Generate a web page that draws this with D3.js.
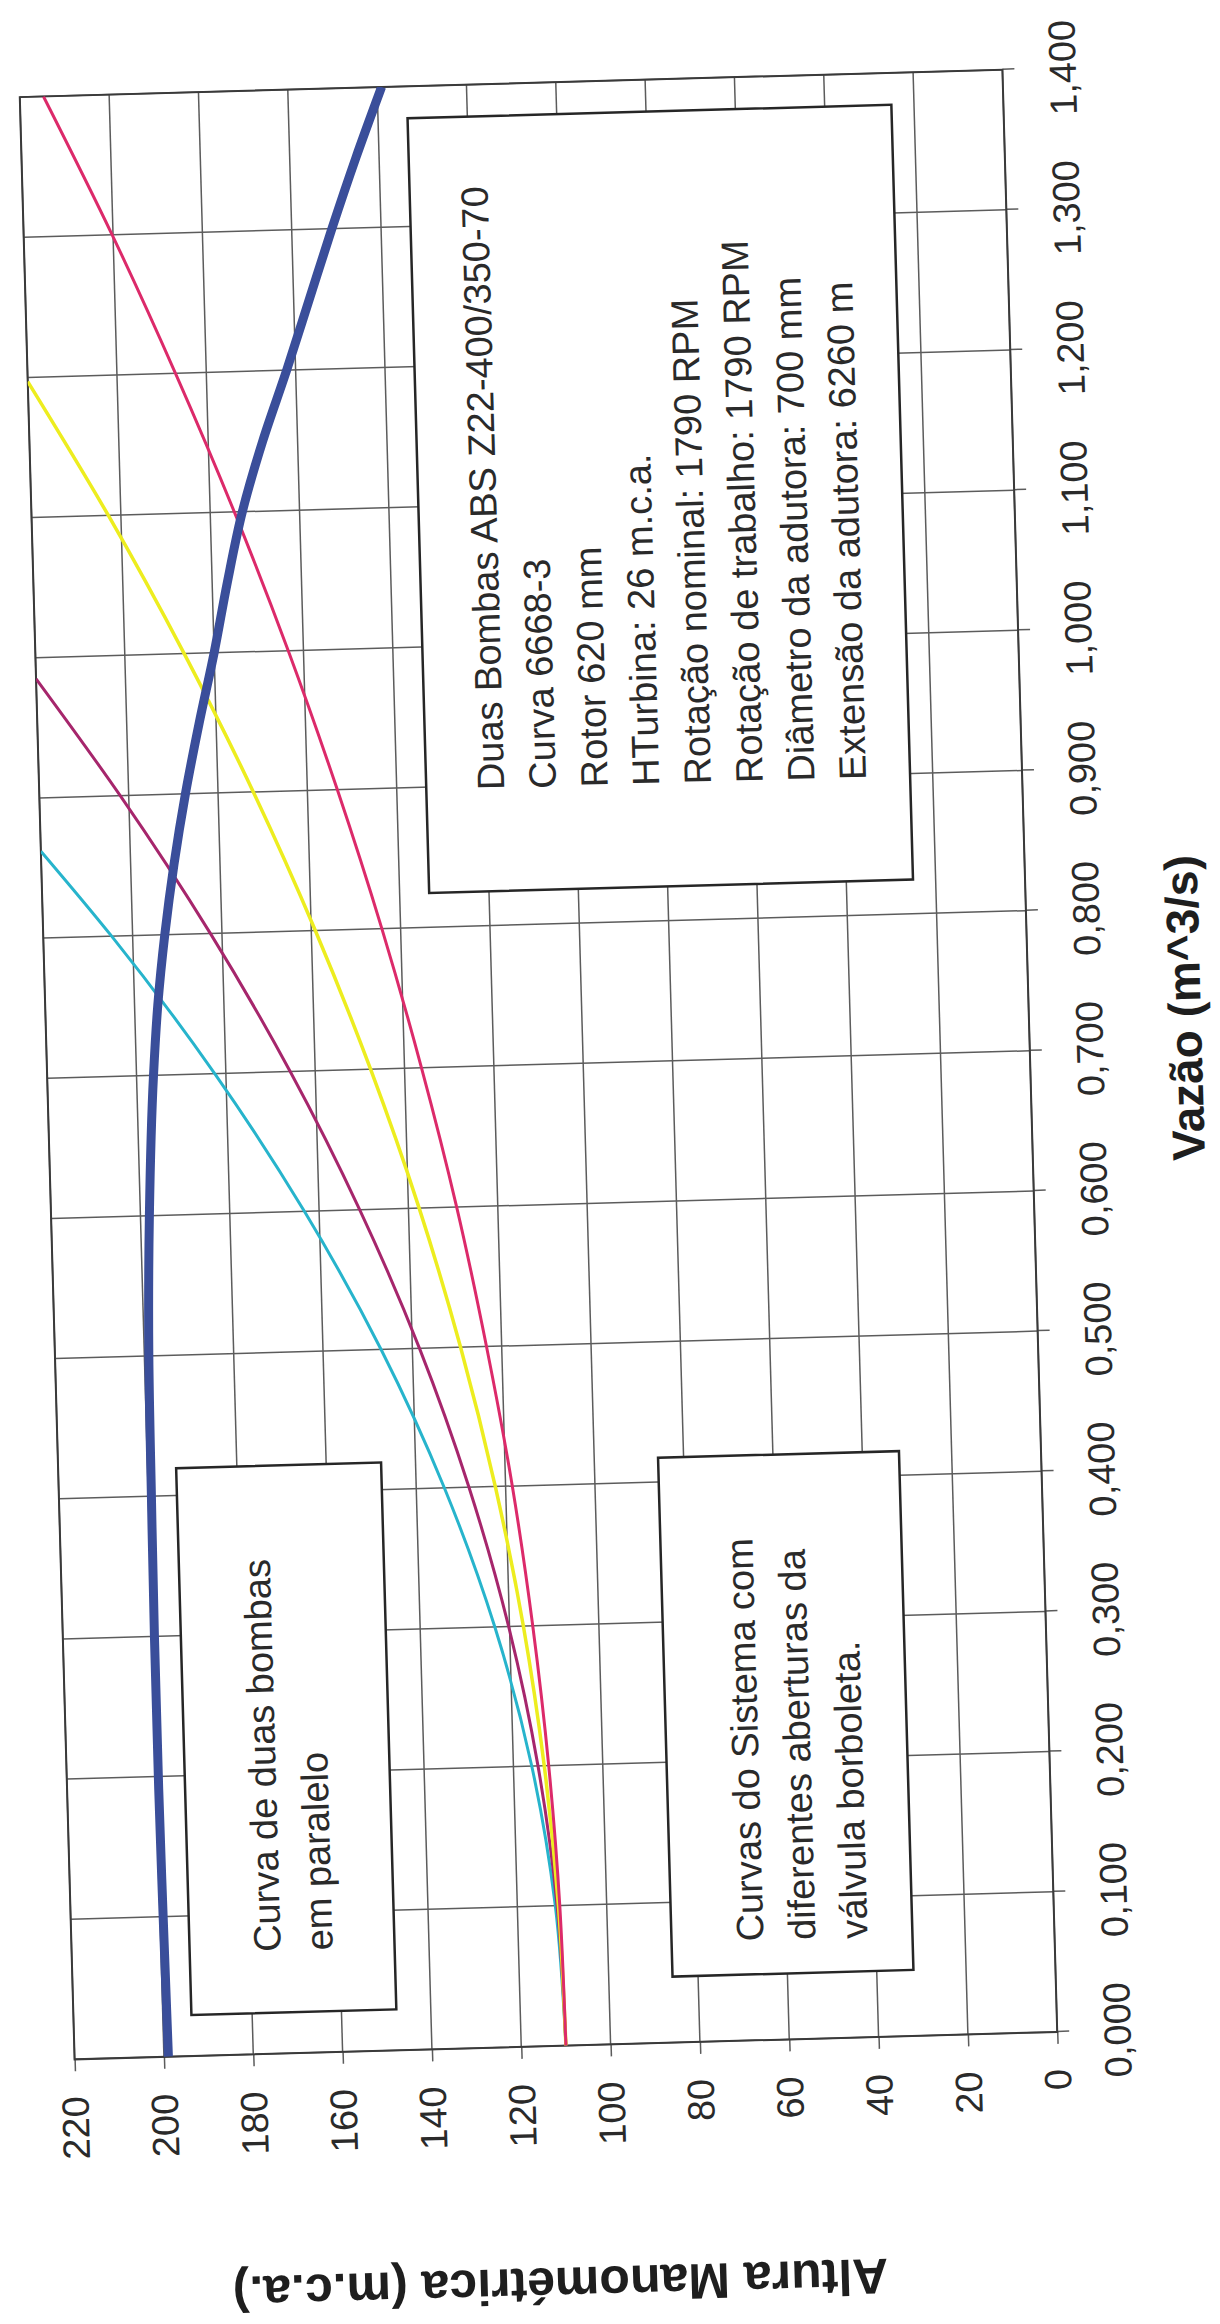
<!DOCTYPE html>
<html>
<head>
<meta charset="utf-8">
<script src="https://cdn.jsdelivr.net/npm/d3@7"></script>
<style>
  html, body { margin: 0; padding: 0; background: #ffffff; }
  svg { display: block; }
</style>
</head>
<body>
<svg id="chart" width="1220" height="2324"></svg>
<script>
// ---- Data -------------------------------------------------------------
// Vazão (m^3/s) axis ticks and Altura Manométrica (m.c.a.) axis ticks
const vazaoTicks = [0, 0.1, 0.2, 0.3, 0.4, 0.5, 0.6, 0.7, 0.8, 0.9, 1.0, 1.1, 1.2, 1.3, 1.4];
const alturaTicks = [0, 20, 40, 60, 80, 100, 120, 140, 160, 180, 200, 220];

// Curva de duas bombas em paralelo: [vazão, altura]
const bombasParalelo = [
  [0, 199], [0.1, 199.3], [0.2, 199.5], [0.3, 199.5], [0.4, 199.3], [0.5, 199],
  [0.6, 198], [0.7, 196.2], [0.75, 194.8], [0.8, 192.8], [0.85, 190.3], [0.9, 187.3],
  [0.95, 183.8], [1.0, 180], [1.05, 176.6], [1.1, 172.8], [1.15, 167.8], [1.2, 162],
  [1.25, 156.5], [1.3, 151], [1.35, 145.2], [1.4, 139]
];

// Curvas do sistema, uma por abertura da válvula borboleta
const sistemaCiano = [
  [0, 110], [0.1, 111.5], [0.2, 115.9], [0.3, 123.3], [0.4, 133.7], [0.5, 147.0],
  [0.6, 163.3], [0.7, 182.5], [0.8, 204.7], [0.862, 220]
];
const sistemaPurpura = [
  [0, 110], [0.1, 111.1], [0.2, 114.5], [0.3, 120.2], [0.4, 128.2], [0.5, 138.4],
  [0.6, 150.9], [0.7, 165.6], [0.8, 182.6], [0.9, 201.9], [0.985, 220]
];
const sistemaAmarelo = [
  [0, 110], [0.1, 110.8], [0.2, 113.1], [0.3, 116.9], [0.4, 122.3], [0.5, 129.2],
  [0.6, 137.6], [0.7, 147.6], [0.8, 159.1], [0.9, 172.1], [1.0, 186.7], [1.1, 202.8],
  [1.197, 220]
];
const sistemaMagenta = [
  [0, 110], [0.1, 110.5], [0.2, 112.1], [0.3, 114.8], [0.4, 118.5], [0.5, 123.4],
  [0.6, 129.2], [0.7, 136.2], [0.8, 144.2], [0.9, 153.3], [1.0, 163.4], [1.1, 174.6],
  [1.2, 186.9], [1.3, 200.2], [1.4, 214.7]
];

// Text boxes
const notaBombas = [
  "Duas Bombas ABS Z22-400/350-70",
  "Curva 6668-3",
  "Rotor 620 mm",
  "HTurbina: 26 m.c.a.",
  "Rotação nominal: 1790 RPM",
  "Rotação de trabalho: 1790 RPM",
  "Diâmetro da adutora: 700 mm",
  "Extensão da adutora: 6260 m"
];
const notaCurvaBombas = ["Curva de duas bombas", "em paralelo"];
const notaSistema = ["Curvas do Sistema com", "diferentes aberturas da", "válvula borboleta."];

const tituloVazao = "Vazão (m^3/s)";
const tituloAltura = "Altura Manométrica (m.c.a.)";

// ---- Layout -----------------------------------------------------------
// The chart is laid out in its own frame (vazão across, altura up) and then
// turned a quarter turn counter-clockwise onto the page, with a slight skew.
const W = 1963, H = 983;            // plot size in the chart frame
const originX = 47, originY = 2046; // page position of the plot's (0, 220) corner
const tilt = -1.6, tiltCx = 539, tiltCy = 1064;
const FONT = "'Liberation Sans', Arial, Helvetica, sans-serif";

const svg = d3.select("#chart");
svg.append("rect").attr("width", 1220).attr("height", 2324).attr("fill", "#ffffff");

const g = svg.append("g")
  .attr("transform", `rotate(${tilt} ${tiltCx} ${tiltCy}) translate(${originX} ${originY}) rotate(-90)`);

const x = d3.scaleLinear().domain([0, 1.4]).range([0, W]);
const y = d3.scaleLinear().domain([0, 220]).range([H, 0]);

const fmtVazao = d => d3.format(".3f")(d).replace(".", ",");

// Gridlines
const gridColor = "#5c5c5c";
g.append("g").selectAll("line")
  .data(vazaoTicks)
  .join("line")
  .attr("x1", d => x(d)).attr("x2", d => x(d))
  .attr("y1", 0).attr("y2", H)
  .attr("stroke", gridColor).attr("stroke-width", 1.5);

g.append("g").selectAll("line")
  .data(alturaTicks)
  .join("line")
  .attr("x1", 0).attr("x2", W)
  .attr("y1", d => y(d)).attr("y2", d => y(d))
  .attr("stroke", gridColor).attr("stroke-width", 1.5);

// Axes
const xAxis = g.append("g")
  .attr("transform", `translate(0,${H})`)
  .call(d3.axisBottom(x).tickValues(vazaoTicks).tickSize(12).tickFormat(fmtVazao));
const yAxis = g.append("g")
  .call(d3.axisLeft(y).tickValues(alturaTicks).tickSize(12).tickPadding(25).tickFormat(d3.format("d")));

[xAxis, yAxis].forEach(ax => {
  ax.select(".domain").remove();
  ax.selectAll(".tick line").attr("stroke", gridColor).attr("stroke-width", 1.5);
  ax.selectAll(".tick text")
    .attr("fill", "#2a2a2a")
    .style("font-family", FONT)
    .style("font-size", "38px");
});
xAxis.selectAll(".tick text").attr("y", 46).attr("dy", "0.72em");

// Plot border
g.append("rect")
  .attr("x", 0).attr("y", 0).attr("width", W).attr("height", H)
  .attr("fill", "none").attr("stroke", "#3a3a3a").attr("stroke-width", 2);

// Curves
g.append("clipPath").attr("id", "plot-clip")
  .append("rect").attr("x", 0).attr("y", 0).attr("width", W).attr("height", H);

const line = d3.line()
  .x(d => x(d[0]))
  .y(d => y(d[1]))
  .curve(d3.curveMonotoneX);

const curves = g.append("g").attr("clip-path", "url(#plot-clip)");
const series = [
  { data: sistemaCiano, color: "#27b4cc", width: 3 },
  { data: sistemaPurpura, color: "#a6266c", width: 3 },
  { data: sistemaAmarelo, color: "#eded1f", width: 3.5 },
  { data: sistemaMagenta, color: "#dc2a6a", width: 3 },
  { data: bombasParalelo, color: "#3a4e9a", width: 9 }
];
curves.selectAll("path")
  .data(series)
  .join("path")
  .attr("d", s => line(s.data))
  .attr("fill", "none")
  .attr("stroke", s => s.color)
  .attr("stroke-width", s => s.width)
  .attr("stroke-linejoin", "round");

// Text boxes
function textBox(box, lines, textX, firstBaseline, lineStep) {
  const b = g.append("g");
  b.append("rect")
    .attr("x", box.x).attr("y", box.y).attr("width", box.w).attr("height", box.h)
    .attr("fill", "#ffffff").attr("stroke", "#262626").attr("stroke-width", 2.5);
  b.selectAll("text")
    .data(lines)
    .join("text")
    .attr("x", textX)
    .attr("y", (d, i) => firstBaseline + i * lineStep)
    .attr("fill", "#2a2a2a")
    .style("font-family", FONT)
    .style("font-size", "38px")
    .text(d => d);
}
textBox({ x: 1156, y: 387, w: 775, h: 484 }, notaBombas, 1257, 465, 51.7);
textBox({ x: 41, y: 118, w: 547, h: 205 }, notaCurvaBombas, 102, 209, 52);
textBox({ x: 66, y: 600, w: 519, h: 241 }, notaSistema, 99, 692, 52);

// Axis titles
g.append("text")
  .attr("x", 1020).attr("y", H + 172)
  .attr("text-anchor", "middle")
  .attr("fill", "#1e1e1e")
  .style("font-family", FONT).style("font-size", "46px").style("font-weight", "bold")
  .text(tituloVazao);

g.append("text")
  .attr("transform", `translate(-222, ${H / 2 - 12}) rotate(-90)`)
  .attr("text-anchor", "middle")
  .attr("fill", "#1e1e1e")
  .style("font-family", FONT).style("font-size", "50px").style("font-weight", "bold")
  .text(tituloAltura);
</script>
</body>
</html>
